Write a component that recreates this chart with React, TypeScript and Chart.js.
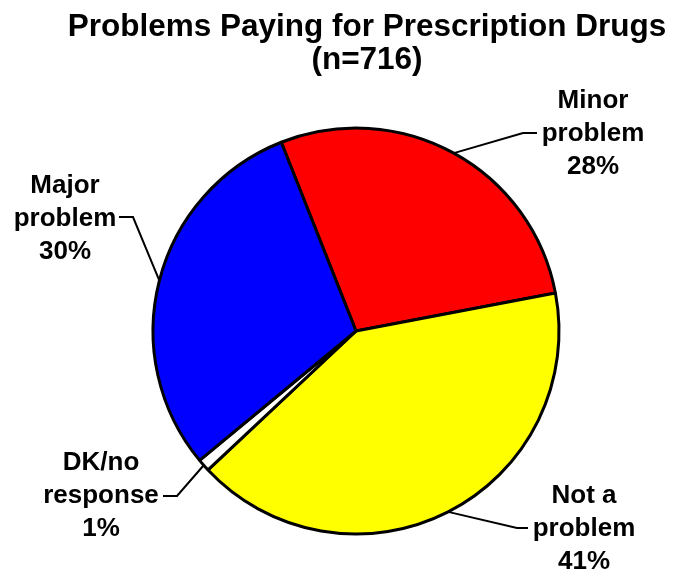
import React, { useEffect, useRef } from 'react';
import { Chart, registerables } from 'chart.js';

Chart.register(...registerables);

const categories = ['Minor problem', 'Not a problem', 'DK/no response', 'Major problem'];
const values = [28, 41, 1, 30];
const labelLines = [
  ['Minor', 'problem', '28%'],
  ['Not a', 'problem', '41%'],
  ['DK/no', 'response', '1%'],
  ['Major', 'problem', '30%'],
];
const sliceColors = ['#FF0000', '#FFFF00', '#FFFFFF', '#0000FF'];
const titleLines = ['Problems Paying for Prescription Drugs', '(n=716)'];

// label layout: text centre x, first baseline y, leader bend point, leader end point
const labelLayout = [
  { cx: 593, y0: 108, bend: [523, 133], end: [537, 133] },
  { cx: 584, y0: 503, bend: [517, 528], end: [528, 528] },
  { cx: 101, y0: 470, bend: [177, 496], end: [163, 496] },
  { cx: 65, y0: 193, bend: [133, 217], end: [119, 217] },
];

const FONT = '"Liberation Sans", Arial, Helvetica, sans-serif';

const labelPlugin = {
  id: 'pieLabels',
  afterDraw(chart: any) {
    const ctx = chart.ctx;
    const meta = chart.getDatasetMeta(0);
    ctx.save();
    ctx.fillStyle = '#000';
    ctx.textAlign = 'center';
    ctx.textBaseline = 'alphabetic';
    ctx.font = `bold 31.5px ${FONT}`;
    titleLines.forEach((t, i) => ctx.fillText(t, 367, 36 + i * 33));
    meta.data.forEach((arc: any, i: number) => {
      const p = arc.getProps(['x', 'y', 'startAngle', 'endAngle', 'outerRadius'], true);
      const mid = (p.startAngle + p.endAngle) / 2;
      const ex = p.x + p.outerRadius * Math.cos(mid);
      const ey = p.y + p.outerRadius * Math.sin(mid);
      const L = labelLayout[i];
      ctx.strokeStyle = '#000';
      ctx.lineWidth = 2;
      ctx.beginPath();
      ctx.moveTo(ex, ey);
      ctx.lineTo(L.bend[0], L.bend[1]);
      ctx.lineTo(L.end[0], L.end[1]);
      ctx.stroke();
      ctx.font = `bold 26px ${FONT}`;
      ctx.fillStyle = '#000';
      labelLines[i].forEach((t, j) => ctx.fillText(t, L.cx, L.y0 + j * 33));
    });
    ctx.restore();
  },
};

export default function App() {
  const ref = useRef<HTMLCanvasElement>(null);
  useEffect(() => {
    if (!ref.current) return;
    const chart = new Chart(ref.current, {
      type: 'pie',
      data: {
        labels: categories,
        datasets: [
          {
            data: values,
            backgroundColor: sliceColors,
            borderColor: '#000',
            borderWidth: 3,
          },
        ],
      },
      options: {
        responsive: false,
        animation: false,
        rotation: -21.6,
        radius: 203,
        layout: { padding: { left: 153, right: 121, top: 128, bottom: 39 } },
        plugins: {
          legend: { display: false },
          title: { display: false },
          tooltip: { enabled: false },
        },
      },
      plugins: [labelPlugin],
    });
    return () => chart.destroy();
  }, []);
  return (
    <div style={{ position: 'fixed', left: 0, top: 0, width: 680, height: 573, background: '#fff' }}>
      <canvas ref={ref} width={680} height={573} />
    </div>
  );
}
